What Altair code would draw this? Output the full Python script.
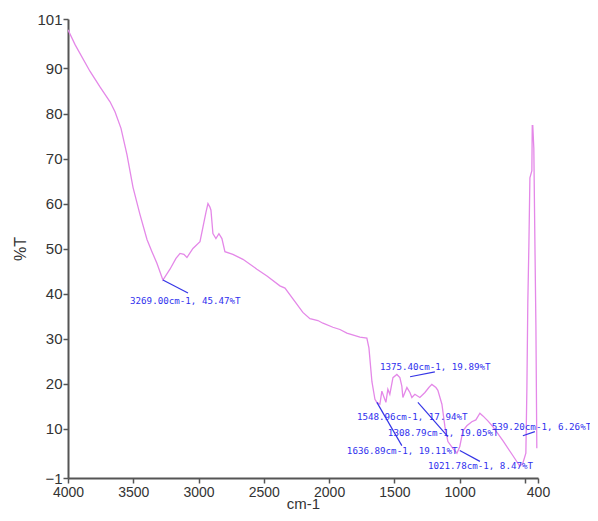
import altair as alt
import pandas as pd

# Spectrum (wavenumber cm-1, %T)
wavenumber = [4000, 3946, 3832, 3755, 3678, 3640, 3594, 3548, 3502, 3449, 3395, 3357, 3319, 3273,
              3219, 3173, 3142, 3112, 3089, 3043, 2989, 2966, 2943, 2928, 2913, 2905, 2890, 2867,
              2844, 2821, 2798, 2737, 2660, 2553, 2476, 2377, 2338, 2277, 2201, 2147, 2116, 2086,
              2047, 1971, 1917, 1864, 1764, 1711, 1695, 1672, 1649, 1634, 1611, 1596, 1580, 1565,
              1550, 1535, 1511, 1481, 1458, 1443, 1435, 1404, 1381, 1366, 1343, 1305, 1266, 1236,
              1213, 1182, 1167, 1136, 1113, 1090, 1052, 1021, 999, 975, 945, 907, 876, 845, 822,
              784, 746, 669, 593, 539, 516, 493, 485, 478, 470, 462, 447, 444, 440, 432, 424, 416, 409]
transmittance = [98.6, 95.3, 89.4, 85.9, 82.6, 80.4, 76.7, 70.8, 63.6, 57.6, 52.0, 49.3, 46.7, 43.0,
                 45.4, 47.8, 48.9, 48.7, 48.0, 50.0, 51.5, 54.8, 58.1, 60.0, 59.2, 58.5, 53.3, 52.2,
                 53.3, 52.2, 49.3, 48.7, 47.6, 45.4, 43.9, 41.7, 41.2, 38.8, 35.8, 34.4, 34.2, 34.0,
                 33.4, 32.5, 32.0, 31.2, 30.3, 30.1, 27.9, 20.4, 16.5, 15.8, 15.4, 18.3, 17.0, 15.8,
                 18.7, 17.6, 21.3, 22.0, 21.3, 19.4, 16.9, 19.1, 18.0, 16.9, 17.6, 16.9, 18.0, 19.1,
                 19.8, 19.1, 18.5, 15.4, 10.4, 7.1, 5.6, 4.5, 6.0, 9.5, 10.6, 11.5, 11.9, 13.4, 12.8,
                 11.7, 10.4, 7.3, 4.0, 1.6, 2.3, 4.5, 19.1, 38.0, 50.4, 65.7, 67.3, 77.3, 77.3, 72.3,
                 52.0, 32.9, 5.6]

# Peak annotations
ann_text = ["3269.00cm-1, 45.47%T", "1375.40cm-1, 19.89%T", "1548.96cm-1, 17.94%T",
            "1308.79cm-1, 19.05%T", "1636.89cm-1, 19.11%T", "1021.78cm-1, 8.47%T",
            "539.20cm-1, 6.26%T"]
ann_wn = [3525, 1611, 1787, 1550, 1864, 1243, 755]
ann_t = [38.4, 23.7, 12.6, 9.1, 5.1, 1.6, 10.4]

# Leader lines
lead_wn1 = [3273, 1380, 1634, 1320, 999, 516]
lead_t1 = [43.0, 21.5, 15.8, 15.8, 5.1, 8.4]
lead_wn2 = [3081, 1190, 1443, 1090, 845, 424]
lead_t2 = [40.1, 22.6, 6.2, 8.2, 2.7, 9.3]

x_ticks = [4000, 3500, 3000, 2500, 2000, 1500, 1000, 500, 400]
y_ticks = [-1, 10, 20, 30, 40, 50, 60, 70, 80, 90, 101]

spec = pd.DataFrame({"wn": wavenumber, "t": transmittance})
ann = pd.DataFrame({"label": ann_text, "wn": ann_wn, "t": ann_t})
leads = pd.DataFrame({"wn1": lead_wn1, "t1": lead_t1, "wn2": lead_wn2, "t2": lead_t2})

xscale = alt.Scale(domain=[4000, 400], nice=False, zero=False)
yscale = alt.Scale(domain=[-1, 101], nice=False, zero=False)

axis_common = dict(
    domainColor="#555555", domainWidth=2, tickColor="#555555", tickWidth=1.5, tickSize=5,
    labelColor="#333333", labelFont="Liberation Sans Narrow, Liberation Sans",
    titleFont="Liberation Sans", titleFontWeight="normal", titleColor="#333333",
    grid=False, labelOverlap=False, labelFlush=False, labelBound=False,
)

line = alt.Chart(spec).mark_line(color="#e488e8", strokeWidth=1.3, clip=True).encode(
    x=alt.X("wn:Q", scale=xscale,
            axis=alt.Axis(values=x_ticks, title="cm-1", titleFontSize=15, titlePadding=-3,
                          labelFontSize=14,
                          labelExpr="datum.value == 500 ? '' : datum.label", labelPadding=2,
                          format="d", **axis_common)),
    y=alt.Y("t:Q", scale=yscale,
            axis=alt.Axis(values=y_ticks, title="%T", titleFontSize=16, titlePadding=8,
                          labelFontSize=15, labelPadding=1, format="d", **axis_common)),
    order=alt.Order("idx:Q"),
).transform_window(idx="row_number()")

rules = alt.Chart(leads).mark_rule(color="#3535e6", strokeWidth=1.2).encode(
    x=alt.X("wn1:Q", scale=xscale), x2="wn2:Q",
    y=alt.Y("t1:Q", scale=yscale), y2="t2:Q",
)

labels = alt.Chart(ann).mark_text(
    align="left", baseline="middle", color="#3030ee",
    font="DejaVu Sans Mono", fontSize=9.2,
).encode(
    x=alt.X("wn:Q", scale=xscale),
    y=alt.Y("t:Q", scale=yscale),
    text="label:N",
)

chart = alt.layer(line, rules, labels).properties(
    width=470, height=459,
    autosize=alt.AutoSizeParams(type="none"),
    padding={"left": 60, "top": 11, "right": 52, "bottom": 35},
).configure_view(stroke=None)

chart.save("out.html", embed_options={"renderer": "svg", "actions": False})
